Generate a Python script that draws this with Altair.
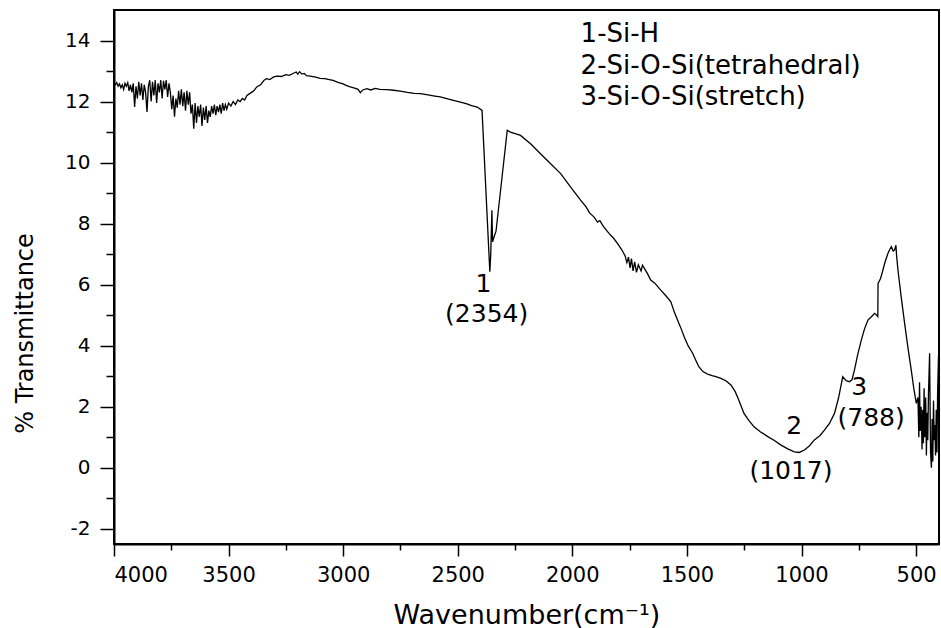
import altair as alt
import pandas as pd

# ---------------- data ----------------
wavenumber = [
    4000, 3994, 3988, 3982, 3976, 3970, 3964, 3958, 3952, 3946, 3940, 3934, 3928, 3922, 3916,
    3910, 3904, 3898, 3892, 3886, 3880, 3874, 3868, 3862, 3856, 3850, 3844, 3838, 3832, 3826,
    3820, 3814, 3808, 3802, 3796, 3790, 3784, 3778, 3772, 3766, 3760, 3754, 3748, 3742, 3736,
    3730, 3724, 3718, 3712, 3706, 3700, 3694, 3688, 3682, 3676, 3670, 3664, 3658, 3652, 3646,
    3640, 3634, 3628, 3622, 3616, 3610, 3604, 3598, 3592, 3586, 3580, 3574, 3568, 3562, 3556,
    3550, 3544, 3538, 3532, 3526, 3520, 3514, 3508, 3500, 3490, 3480, 3470, 3460, 3450, 3440,
    3430, 3420, 3410, 3400, 3390, 3377, 3360, 3345, 3334, 3320, 3305, 3290, 3270, 3250, 3235,
    3219, 3205, 3198, 3190, 3180, 3170, 3160, 3144, 3120, 3100, 3080, 3060, 3044, 3020, 3000,
    2985, 2969, 2950, 2935, 2925, 2915, 2896, 2880, 2860, 2840, 2809, 2780, 2751, 2720, 2690,
    2663, 2630, 2600, 2576, 2540, 2510, 2488, 2460, 2440, 2415, 2394,
    2360, 2356, 2351, 2348, 2340, 2333, 2284, 2270, 2226, 2180, 2139, 2100, 2051, 2008,
    1964, 1940, 1925, 1906, 1890, 1880, 1863, 1840, 1820, 1803, 1785, 1770, 1762, 1755, 1748,
    1742, 1735, 1728, 1720, 1712, 1700, 1694, 1672, 1658, 1640, 1614, 1590, 1570, 1555, 1541,
    1525, 1512, 1495, 1475, 1460, 1448, 1430, 1410, 1390, 1370, 1352, 1330, 1308, 1290, 1279,
    1265, 1251, 1230, 1207, 1180, 1147, 1120, 1089, 1060, 1031, 1010, 987, 965, 944, 920,
    900, 878, 856, 838, 820, 805, 791, 780, 769, 755, 739, 725, 710, 695, 681,
    672, 667, 666, 655, 645, 635, 623, 615, 608, 600, 594, 588, 585, 579, 565,
    550, 535, 521, 510, 499, 492, 488, 485, 482, 478, 474, 471, 468, 465, 462,
    458, 455, 452, 449, 446, 441, 437, 433, 430, 427, 424, 421, 418, 415, 412,
    409, 406, 402, 400,
]
transmittance = [
    12.60, 12.55, 12.62, 12.50, 12.58, 12.45, 12.55, 12.40, 12.60, 12.50, 12.62, 12.35, 12.55, 12.30, 12.60,
    11.82, 12.50, 12.10, 12.65, 12.20, 12.60, 12.05, 12.55, 12.30, 11.66, 12.50, 12.70, 12.00, 12.65, 12.20,
    12.70, 11.95, 12.60, 12.30, 12.70, 12.10, 12.68, 12.40, 12.70, 12.15, 12.60, 12.30, 11.75, 12.20, 11.50,
    12.10, 11.80, 12.35, 11.90, 12.40, 11.85, 12.30, 11.70, 12.35, 11.90, 12.30, 11.60, 11.90, 11.11, 11.95,
    11.30, 11.85, 11.50, 11.90, 11.20, 11.80, 11.40, 11.85, 11.30, 11.70, 11.50, 11.85, 11.60, 11.90, 11.55,
    11.85, 11.65, 11.90, 11.60, 11.95, 11.70, 11.90, 11.75, 11.95, 11.85, 12.00, 11.90, 12.05, 12.00, 12.10,
    12.05, 12.20, 12.25, 12.30, 12.35, 12.48, 12.55, 12.70, 12.75, 12.72, 12.80, 12.83, 12.82, 12.88, 12.86,
    12.92, 12.97, 12.90, 12.98, 12.90, 12.92, 12.85, 12.83, 12.80, 12.76, 12.75, 12.72, 12.69, 12.62, 12.58,
    12.52, 12.48, 12.44, 12.40, 12.29, 12.38, 12.42, 12.38, 12.43, 12.40, 12.39, 12.37, 12.34, 12.30, 12.27,
    12.26, 12.22, 12.18, 12.15, 12.08, 12.02, 11.98, 11.92, 11.87, 11.82, 11.71,
    6.42, 7.00, 8.44, 7.40, 7.60, 7.75, 11.06, 11.00, 10.89, 10.60, 10.29, 10.00, 9.64, 9.20,
    8.77, 8.55, 8.35, 8.22, 8.05, 8.10, 7.89, 7.68, 7.52, 7.35, 7.15, 6.95, 6.72, 6.90, 6.55,
    6.85, 6.45, 6.75, 6.40, 6.65, 6.45, 6.64, 6.36, 6.15, 6.05, 5.82, 5.62, 5.44, 5.10, 4.84,
    4.55, 4.29, 4.00, 3.75, 3.50, 3.31, 3.15, 3.07, 3.02, 2.98, 2.93, 2.85, 2.71, 2.50, 2.32,
    2.05, 1.78, 1.55, 1.34, 1.18, 1.02, 0.90, 0.74, 0.62, 0.52, 0.50, 0.58, 0.72, 0.91, 1.05,
    1.23, 1.45, 1.78, 2.30, 2.98, 2.85, 2.82, 2.88, 3.20, 3.70, 4.18, 4.55, 4.84, 4.95, 5.06,
    5.00, 4.95, 6.04, 6.20, 6.47, 6.75, 7.02, 7.15, 7.24, 7.10, 7.13, 7.29, 6.95, 6.47, 5.60,
    4.73, 3.90, 3.20, 2.60, 2.11, 2.30, 1.00, 2.80, 1.20, 2.00, 0.60, 1.90, 0.80, 2.60, 1.00,
    2.30, 0.40, 1.80, 0.90, 2.40, 3.75, 0.50, 0.00, 1.60, 0.20, 2.20, 0.90, 1.40, 0.40, 1.90,
    0.50, 2.50, 3.70, 1.20,
]

x_major = [4000, 3500, 3000, 2500, 2000, 1500, 1000, 500]
x_minor = [3750, 3250, 2750, 2250, 1750, 1250, 750]
y_major = [-2, 0, 2, 4, 6, 8, 10, 12, 14]
y_minor = [-1, 1, 3, 5, 7, 9, 11, 13]

peak_wn = [2388, 2374, 1032, 1046, 748, 696]
peak_t = [5.75, 4.76, 1.10, -0.36, 2.38, 1.37]
peak_text = ["1", "(2354)", "2", "(1017)", "3", "(788)"]

legend_text = ["1-Si-H", "2-Si-O-Si(tetrahedral)", "3-Si-O-Si(stretch)"]
legend_wn = [1964, 1964, 1964]
legend_t = [13.95, 12.91, 11.88]

# ---------------- chart ----------------
FONT = "DejaVu Sans"
df = pd.DataFrame({"wn": wavenumber, "t": transmittance})
peaks = pd.DataFrame({"wn": peak_wn, "t": peak_t, "label": peak_text})
legend = pd.DataFrame({"wn": legend_wn, "t": legend_t, "label": legend_text})

xs = alt.Scale(domain=[400, 4000], reverse=True, nice=False, zero=False)
ys = alt.Scale(domain=[-2.5, 15], nice=False, zero=False)

line = alt.Chart(df).mark_line(color="black", strokeWidth=1.3).encode(
    x=alt.X("wn:Q", scale=xs, axis=alt.Axis(
        values=x_major, tickSize=12, labelPadding=8, labelExpr="toString(datum.value)",
        orient="bottom", labelFontSize=21, title="Wavenumber(cm⁻¹)", titleY=79,
        titleBaseline="alphabetic", titleFontSize=27)),
    y=alt.Y("t:Q", scale=ys, axis=alt.Axis(
        values=y_major, tickSize=14, labelPadding=10, labelExpr="toString(datum.value)",
        orient="left", labelFontSize=20, title="% Transmittance", titleX=-82, titleY=323,
        titleAngle=-90, titleAlign="center", titleBaseline="alphabetic", titleFontSize=24)),
)

minor = alt.Chart(df).mark_line(opacity=0).encode(
    x=alt.X("wn:Q", scale=xs, axis=alt.Axis(
        values=x_minor, tickSize=6, labels=False, domain=False, orient="bottom", title=None)),
    y=alt.Y("t:Q", scale=ys, axis=alt.Axis(
        values=y_minor, tickSize=8, labels=False, domain=False, orient="left", title=None)),
)

peak_layer = alt.Chart(peaks).mark_text(
    font=FONT, fontSize=25, color="black", align="center", baseline="alphabetic"
).encode(
    x=alt.X("wn:Q", scale=xs, axis=None),
    y=alt.Y("t:Q", scale=ys, axis=None),
    text="label:N",
)

legend_layer = alt.Chart(legend).mark_text(
    font=FONT, fontSize=26, color="black", align="left", baseline="alphabetic"
).encode(
    x=alt.X("wn:Q", scale=xs, axis=None),
    y=alt.Y("t:Q", scale=ys, axis=None),
    text="label:N",
)

chart = alt.layer(line, minor, peak_layer, legend_layer).resolve_axis(
    x="independent", y="independent"
).properties(
    width=825, height=534,
    padding={"left": 114, "top": 10, "right": 2, "bottom": 84},
    autosize=alt.AutoSizeParams(type="none"),
).configure_axis(
    grid=False, domainColor="black", domainWidth=2, tickColor="black", tickWidth=1.5,
    labelFont=FONT, labelColor="black", titleFont=FONT, titleFontSize=26,
    titleColor="black", titleFontWeight="normal",
).configure_view(stroke="black", strokeWidth=2)

chart.save("out.html", embed_options={"renderer": "svg", "actions": False})
